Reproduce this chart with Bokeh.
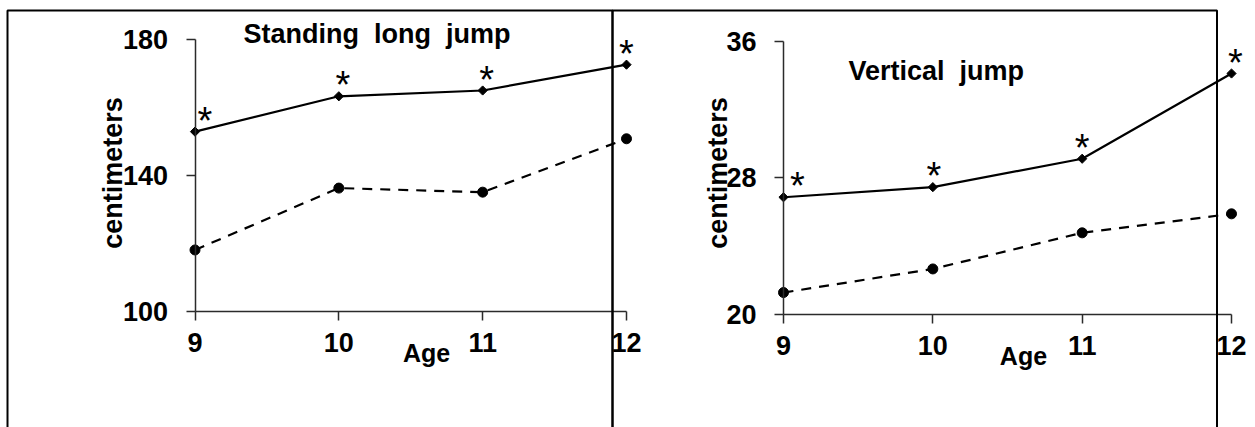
import math
from bokeh.plotting import figure
from bokeh.models import Range1d, LinearAxis, FixedTicker, Label, BoxAnnotation, ColumnDataSource
from bokeh.embed import file_html
from bokeh.resources import INLINE
from bokeh.core.properties import value

# ---------------- data ----------------
ages = [9, 10, 11, 12]
age_ticks = [9, 10, 11, 12]
slj_ticks = [100, 140, 180]
vj_ticks = [20, 28, 36]
slj_solid = [152.9, 163.3, 165.0, 172.6]
slj_dashed = [118.1, 136.3, 135.1, 150.8]
vj_solid = [26.87, 27.46, 29.12, 34.1]
vj_dashed = [21.3, 22.68, 24.79, 25.9]
signif = ["*", "*", "*", "*"]
title_left = "Standing\u00a0\u00a0long\u00a0\u00a0jump"
title_right = "Vertical\u00a0\u00a0jump"
x_label = "Age"
y_label = "centimeters"

FONT = "Liberation Sans"
BLACK = "black"
AXIS = "#2b2b2b"

p = figure(width=1255, height=427, output_backend="svg", toolbar_location=None,
           x_axis_type=None, y_axis_type=None, min_border=0,
           x_range=Range1d(7.6477, 16.3732), y_range=Range1d(65.8824, 191.4706),
           outline_line_color=None, background_fill_color="white",
           border_fill_color="white")
p.extra_x_ranges = {"r": Range1d(3.7567, 12.1607)}
p.extra_y_ranges = {"r": Range1d(13.4142, 38.3667)}
p.xgrid.visible = False
p.ygrid.visible = False


def style_axis(ax):
    ax.axis_line_color = AXIS
    ax.axis_line_width = 1.5
    ax.major_tick_line_color = AXIS
    ax.major_tick_line_width = 1.5
    ax.major_tick_in = 0
    ax.major_tick_out = 9
    ax.minor_tick_in = 0
    ax.minor_tick_out = 0
    ax.major_label_text_font = FONT
    ax.major_label_text_font_style = "bold"
    ax.major_label_text_font_size = "27px"
    ax.major_label_text_color = BLACK


# ---- left panel axes ----
yl = LinearAxis(ticker=FixedTicker(ticks=slj_ticks), fixed_location=9,
                bounds=(min(slj_ticks), max(slj_ticks)), major_label_standoff=18)
style_axis(yl)
p.add_layout(yl, "left")
xl = LinearAxis(ticker=FixedTicker(ticks=age_ticks), fixed_location=min(slj_ticks),
                bounds=(min(age_ticks), max(age_ticks)), major_label_standoff=12)
style_axis(xl)
p.add_layout(xl, "below")

# ---- right panel axes ----
yr = LinearAxis(ticker=FixedTicker(ticks=vj_ticks), fixed_location=9,
                x_range_name="r", y_range_name="r",
                bounds=(min(vj_ticks), max(vj_ticks)), major_label_standoff=18)
style_axis(yr)
p.add_layout(yr, "left")
xr = LinearAxis(ticker=FixedTicker(ticks=age_ticks), fixed_location=min(vj_ticks),
                x_range_name="r", y_range_name="r",
                bounds=(min(age_ticks), max(age_ticks)), major_label_standoff=12)
style_axis(xr)
p.add_layout(xr, "below")


def draw_panel(solid, dashed, dx, **rn):
    p.line(ages, dashed, line_color=BLACK, line_width=2.2, line_dash="10 8", **rn)
    p.scatter(ages, dashed, marker="circle", size=10, color=BLACK, **rn)
    p.line(ages, solid, line_color=BLACK, line_width=2.2, **rn)
    p.scatter(ages, solid, marker="square", angle=math.pi / 4, size=6.5, color=BLACK, **rn)
    src = ColumnDataSource(dict(x=ages, y=solid, t=signif, dx=dx))
    p.text(x="x", y="y", text="t", source=src, x_offset="dx", y_offset=-11,
           text_font=value(FONT), text_font_size="38px", text_color=BLACK,
           text_align="center", text_baseline="alphabetic", **rn)


draw_panel(slj_solid, slj_dashed, [10, 4, 4, 0])
draw_panel(vj_solid, vj_dashed, [14, 1, 0, 4], x_range_name="r", y_range_name="r")


def label(x, y, text, size, angle=0.0, align="left", **rn):
    p.add_layout(Label(x=x, y=y, text=text, angle=angle, text_align=align,
                       text_baseline="alphabetic", text_font=FONT,
                       text_font_style="bold", text_font_size=size,
                       text_color=BLACK, **rn))


label(9.3372, 181.76, title_left, "27px")
label(10.6095, 87.94, x_label, "25px", align="center")
label(8.4264, 140.735, y_label, "27px", angle=math.pi / 2, align="center")

label(9.4353, 34.276, title_right, "27px", x_range_name="r", y_range_name="r")
label(10.607, 17.62, x_label, "25px", align="center", x_range_name="r", y_range_name="r")
label(8.56, 28.286, y_label, "27px", angle=math.pi / 2, align="center",
      x_range_name="r", y_range_name="r")

# ---- panel frames (border lines) ----
for left, right in [(7.6964, 11.9027), (11.9027, 16.1055)]:
    p.add_layout(BoxAnnotation(left=left, right=right, top=188.53, bottom=30,
                               fill_color=None, fill_alpha=0, line_color=BLACK,
                               line_alpha=1.0, line_width=2))

open("out.html", "w").write(file_html(p, INLINE))
